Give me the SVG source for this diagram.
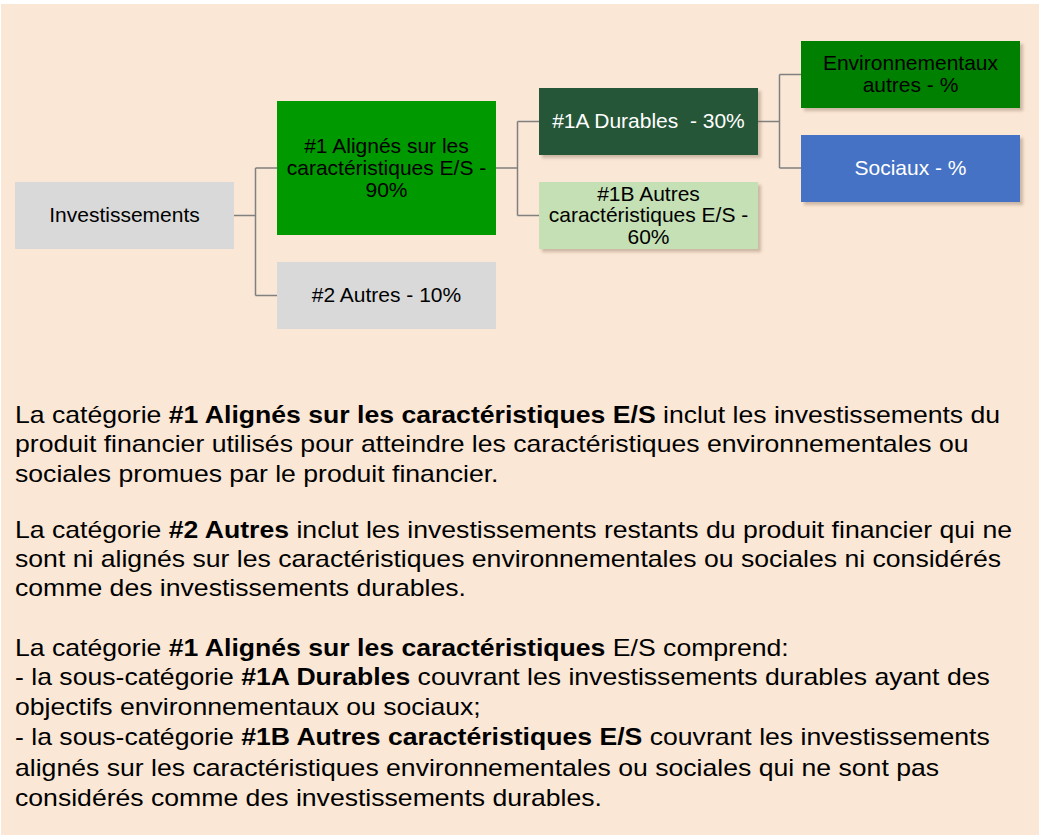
<svg xmlns="http://www.w3.org/2000/svg" width="1039" height="837" viewBox="0 0 1039 837">
<style>
.n{font-family:"Liberation Sans",Arial,sans-serif;font-size:21px;text-anchor:middle;fill:#000}
.w{fill:#fff}
.p{font-family:"Liberation Sans",Arial,sans-serif;font-size:23px;fill:#000}
.b{font-weight:bold}
.c{fill:none;stroke:#808080;stroke-width:1.5}
</style>
<defs>
<filter id="sh" x="-10%" y="-10%" width="130%" height="130%">
<feDropShadow dx="3" dy="3" stdDeviation="1.5" flood-color="#7a6048" flood-opacity="0.35"/>
</filter>
</defs>
<rect x="0" y="0" width="1039" height="837" fill="#fff"/>
<rect x="1" y="4" width="1038" height="831" fill="#FAE7D5"/>

<g id="connectors">
<path class="c" d="M234,215.5 H255.5 M255.5,168 V295.5 M255.5,168 H277 M255.5,295.5 H277"/>
<path class="c" d="M496,168 H517.5 M517.5,121.5 V215.5 M517.5,121.5 H539 M517.5,215.5 H539"/>
<path class="c" d="M758,121.5 H779.5 M779.5,74.5 V168 M779.5,74.5 H801 M779.5,168 H801"/>
</g>

<g id="n-investissements">
<rect x="15" y="182" width="219" height="67" fill="#D9D9D9"/>
<text class="n" x="124.5" y="221.7">Investissements</text>
</g>
<g id="n-1">
<rect x="277" y="101" width="219" height="134" fill="#009900"/>
<text class="n" x="386.5" y="153">#1 Alignés sur les</text>
<text class="n" x="386.5" y="175">caractéristiques E/S -</text>
<text class="n" x="386.5" y="197">90%</text>
</g>
<g id="n-2">
<rect x="277" y="262" width="219" height="67" fill="#D9D9D9"/>
<text class="n" x="386.5" y="301.7">#2 Autres - 10%</text>
</g>
<g id="n-1a" >
<rect x="539" y="88" width="219" height="67" fill="#255639" filter="url(#sh)"/>
<text class="n w" x="648.5" y="127.5" xml:space="preserve">#1A Durables  - 30%</text>
</g>
<g id="n-1b">
<rect x="539" y="182" width="219" height="67" fill="#C5E0B4" filter="url(#sh)"/>
<text class="n" x="648.5" y="200.5">#1B Autres</text>
<text class="n" x="648.5" y="222.3">caractéristiques E/S -</text>
<text class="n" x="648.5" y="244">60%</text>
</g>
<g id="n-env">
<rect x="801" y="41" width="219" height="67" fill="#008000" filter="url(#sh)"/>
<text class="n" x="910.5" y="70">Environnementaux</text>
<text class="n" x="910.5" y="92">autres - %</text>
</g>
<g id="n-sociaux">
<rect x="801" y="135" width="219" height="67" fill="#4472C4" filter="url(#sh)"/>
<text class="n w" x="910.5" y="175">Sociaux - %</text>
</g>

<g id="description" transform="translate(15,0) scale(1.157,1)">
<text class="p" x="0" y="423">La catégorie <tspan class="b">#1 Alignés sur les caractéristiques E/S</tspan> inclut les investissements du</text>
<text class="p" x="0" y="452.5">produit financier utilisés pour atteindre les caractéristiques environnementales ou</text>
<text class="p" x="0" y="482">sociales promues par le produit financier.</text>
<text class="p" x="0" y="538.3">La catégorie <tspan class="b">#2 Autres</tspan> inclut les investissements restants du produit financier qui ne</text>
<text class="p" x="0" y="567.3">sont ni alignés sur les caractéristiques environnementales ou sociales ni considérés</text>
<text class="p" x="0" y="596.5">comme des investissements durables.</text>
<text class="p" x="0" y="656">La catégorie <tspan class="b">#1 Alignés sur les caractéristiques</tspan> E/S comprend:</text>
<text class="p" x="0" y="685">- la sous-catégorie <tspan class="b">#1A Durables</tspan> couvrant les investissements durables ayant des</text>
<text class="p" x="0" y="715">objectifs environnementaux ou sociaux;</text>
<text class="p" x="0" y="745.5">- la sous-catégorie <tspan class="b">#1B Autres caractéristiques E/S</tspan> couvrant les investissements</text>
<text class="p" x="0" y="776">alignés sur les caractéristiques environnementales ou sociales qui ne sont pas</text>
<text class="p" x="0" y="806.5">considérés comme des investissements durables.</text>
</g>
</svg>
